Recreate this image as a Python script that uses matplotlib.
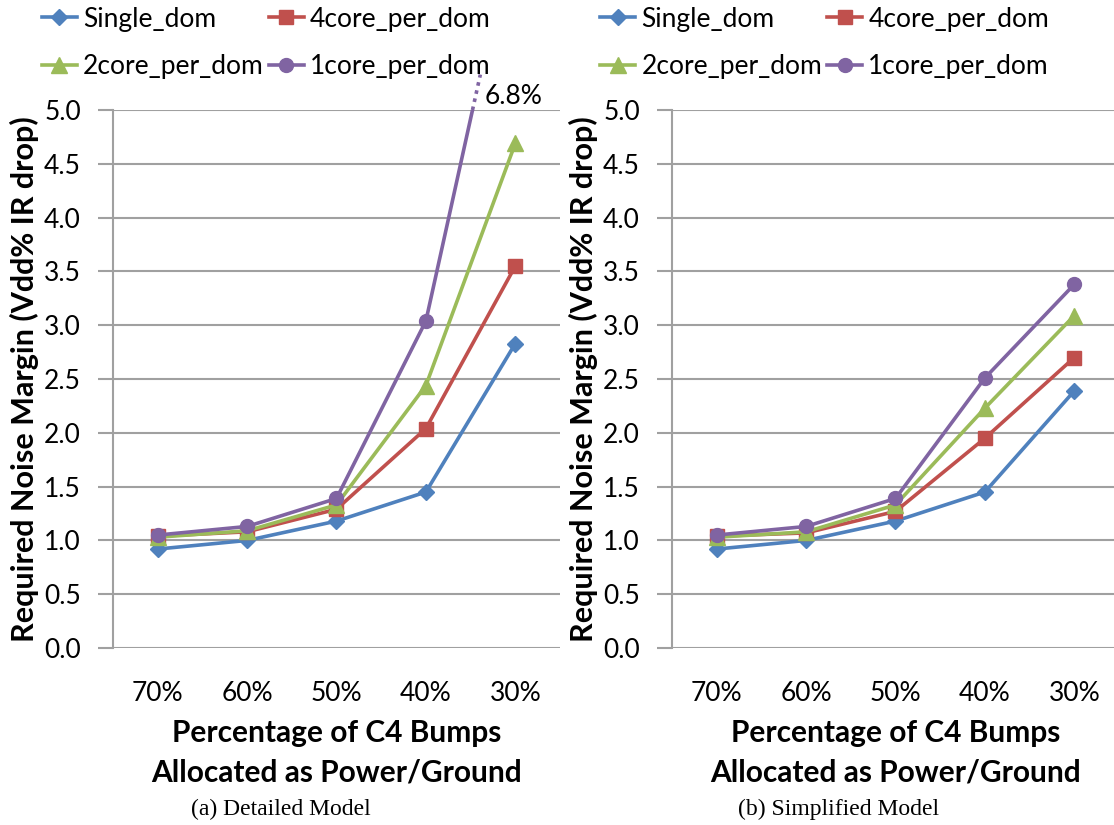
import matplotlib.pyplot as plt
import numpy as np

# categories on the x axis
categories = ['70%', '60%', '50%', '40%', '30%']
series_names = ['Single_dom', '4core_per_dom', '2core_per_dom', '1core_per_dom']

# (a) Detailed Model
detailed_single = [0.92, 1.00, 1.18, 1.45, 2.83]
detailed_4core = [1.04, 1.08, 1.29, 2.04, 3.55]
detailed_2core = [1.03, 1.09, 1.33, 2.44, 4.69]
detailed_1core = [1.05, 1.13, 1.39, 3.04, 6.8]

# (b) Simplified Model
simple_single = [0.92, 1.00, 1.18, 1.45, 2.39]
simple_4core = [1.04, 1.07, 1.27, 1.95, 2.70]
simple_2core = [1.03, 1.08, 1.33, 2.23, 3.09]
simple_1core = [1.05, 1.13, 1.39, 2.51, 3.38]

y_ticks = np.arange(0, 5.01, 0.5)

colors = ['#4F81BD', '#C0504D', '#9BBB59', '#8064A2']
markers = ['D', 's', '^', 'o']
msizes = [8, 10, 11, 10]

plt.rcParams['font.family'] = ['Lato', 'DejaVu Sans']

fig = plt.figure(figsize=(11.14, 8.25), dpi=100)
ax_a = fig.add_axes([0.1014, 0.2145, 0.4013, 0.6521])
ax_b = fig.add_axes([0.6032, 0.2145, 0.4013, 0.6521])


def draw_panel(ax, data, caption, cap_x, legend_x):
    x = np.arange(len(categories))
    lines = []
    for vals, name, c, m, ms in zip(data, series_names, colors, markers, msizes):
        ln, = ax.plot(x, vals, color=c, lw=2.6, marker=m, markersize=ms,
                      label=name, zorder=3)
        lines.append(ln)
    ax.set_xlim(-0.5, len(categories) - 0.5)
    ax.set_ylim(0, 5)
    ax.set_yticks(y_ticks)
    ax.set_yticklabels(['%.1f' % t for t in y_ticks])
    ax.set_xticks(x)
    ax.set_xticklabels(categories)
    ax.grid(axis='y', color='#a0a0a0', lw=1.5, zorder=0)
    ax.set_axisbelow(True)
    for s in ['top', 'right', 'bottom']:
        ax.spines[s].set_visible(False)
    ax.spines['left'].set_color('#a0a0a0')
    ax.spines['left'].set_linewidth(1.5)
    ax.tick_params(axis='y', length=11, width=1.5, color='#a0a0a0',
                   labelsize=19, pad=12)
    ax.tick_params(axis='x', length=0, labelsize=19, pad=24)
    ax.set_xlabel('Percentage of C4 Bumps\nAllocated as Power/Ground',
                  fontsize=21.5, fontweight='bold', labelpad=9, linespacing=1.5)
    ax.set_ylabel('Required Noise Margin (Vdd% IR drop)', fontsize=22,
                  fontweight='bold', labelpad=4)
    # legend: column-wise fill, so reorder
    order = [0, 2, 1, 3]
    ax.legend([lines[i] for i in order], [series_names[i] for i in order],
              ncol=2, loc='upper left', bbox_to_anchor=(legend_x, 0.992),
              bbox_transform=fig.transFigure, frameon=False, fontsize=19,
              handlelength=1.3, handletextpad=0.25, columnspacing=0.2,
              labelspacing=0.85, borderaxespad=0, borderpad=0)
    fig.text(cap_x, 0.006, caption, ha='center', va='bottom',
             family='Liberation Serif', fontsize=17)


draw_panel(ax_a, [detailed_single, detailed_4core, detailed_2core, detailed_1core],
           '(a) Detailed Model', 0.252, 0.038)
draw_panel(ax_b, [simple_single, simple_4core, simple_2core, simple_1core],
           '(b) Simplified Model', 0.753, 0.539)

# dotted continuation of the off-scale 1core point in panel (a)
x3, x4 = 3, 4
y3, y4 = detailed_1core[3], detailed_1core[4]
y_top = 5.0
y_end = 5.33
xa = x3 + (y_top - y3) / (y4 - y3)
xb = x3 + (y_end - y3) / (y4 - y3)
ax_a.plot([xa, xb], [y_top, y_end], color=colors[3], lw=2.6, ls=(0, (1, 1.3)),
          clip_on=False, zorder=3)
ax_a.text(xb + 0.05, 5.13, '%.1f%%' % y4, fontsize=19, ha='left', va='center')

fig.savefig('out.png', dpi=100)
